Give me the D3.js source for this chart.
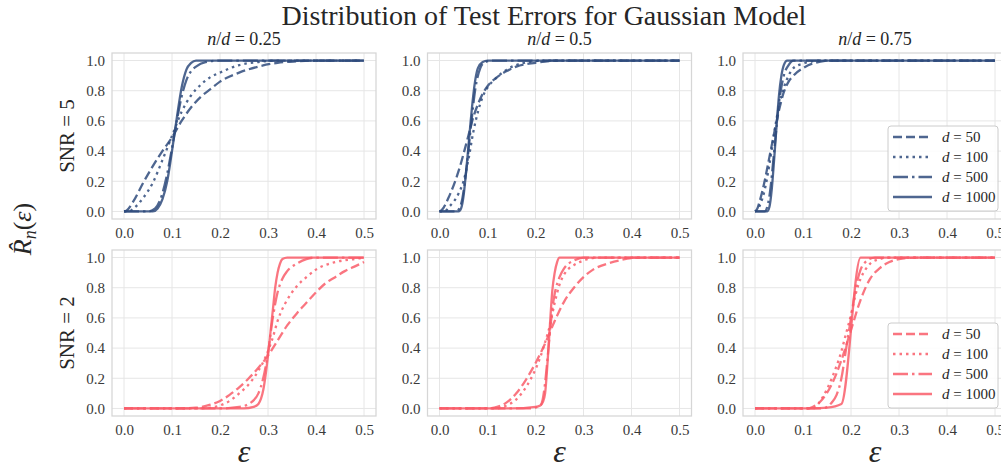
<!DOCTYPE html>
<html>
<head>
<meta charset="utf-8">
<script src="https://cdn.jsdelivr.net/npm/d3@7"></script>
<style>
  body { margin: 0; background: #fff; }
</style>
</head>
<body>
<div id="chart"></div>
<script>
const ratios = ['0.25', '0.5', '0.75'];
const snrs = [5, 2];
const dims = [50, 100, 500, 1000];
const xTicks = [0, 0.1, 0.2, 0.3, 0.4, 0.5];
const yTicks = [0, 0.2, 0.4, 0.6, 0.8, 1.0];

// [eps, R] points for d = 50, 100, 500, 1000
const snr5_r25 = [
  [[0,0],[0.005,0.005],[0.02,0.07],[0.04,0.19],[0.06,0.3],[0.08,0.4],[0.1,0.49],[0.12,0.6],[0.14,0.69],[0.16,0.76],[0.18,0.81],[0.2,0.86],[0.24,0.92],[0.28,0.96],[0.32,0.985],[0.36,0.995],[0.4,1],[0.5,1]],
  [[0,0],[0.01,0],[0.02,0.02],[0.04,0.09],[0.06,0.19],[0.08,0.34],[0.1,0.5],[0.12,0.66],[0.14,0.77],[0.16,0.84],[0.18,0.89],[0.2,0.92],[0.24,0.97],[0.28,0.99],[0.32,1],[0.5,1]],
  [[0,0],[0.05,0],[0.065,0.02],[0.08,0.12],[0.09,0.25],[0.1,0.42],[0.11,0.6],[0.12,0.76],[0.13,0.87],[0.14,0.93],[0.15,0.96],[0.17,0.99],[0.2,1],[0.5,1]],
  [[0,0],[0.06,0],[0.07,0.02],[0.08,0.08],[0.09,0.2],[0.1,0.4],[0.11,0.62],[0.12,0.82],[0.13,0.94],[0.14,0.985],[0.15,1],[0.5,1]]
];
const snr5_r50 = [
  [[0,0],[0.005,0.01],[0.02,0.1],[0.04,0.27],[0.06,0.5],[0.07,0.62],[0.08,0.71],[0.09,0.78],[0.1,0.83],[0.12,0.89],[0.14,0.93],[0.16,0.96],[0.2,0.985],[0.25,1],[0.5,1]],
  [[0,0],[0.01,0],[0.02,0.03],[0.04,0.12],[0.05,0.2],[0.06,0.34],[0.07,0.52],[0.08,0.66],[0.09,0.76],[0.1,0.82],[0.12,0.89],[0.14,0.94],[0.17,0.98],[0.22,1],[0.5,1]],
  [[0,0],[0.035,0],[0.045,0.05],[0.055,0.25],[0.065,0.55],[0.075,0.82],[0.085,0.95],[0.095,0.99],[0.11,1],[0.5,1]],
  [[0,0],[0.04,0],[0.045,0.02],[0.05,0.1],[0.055,0.25],[0.06,0.42],[0.065,0.6],[0.07,0.76],[0.075,0.88],[0.08,0.95],[0.09,0.99],[0.1,1],[0.5,1]]
];
const snr5_r75 = [
  [[0,0],[0.005,0.02],[0.01,0.07],[0.02,0.2],[0.03,0.36],[0.04,0.52],[0.05,0.67],[0.06,0.79],[0.07,0.86],[0.08,0.9],[0.1,0.95],[0.12,0.98],[0.16,1],[0.5,1]],
  [[0,0],[0.005,0.01],[0.01,0.04],[0.02,0.14],[0.03,0.31],[0.04,0.52],[0.05,0.7],[0.06,0.82],[0.07,0.9],[0.08,0.95],[0.1,0.98],[0.14,1],[0.5,1]],
  [[0,0],[0.02,0],[0.03,0.1],[0.04,0.4],[0.05,0.72],[0.06,0.9],[0.07,0.97],[0.08,1],[0.5,1]],
  [[0,0],[0.025,0],[0.03,0.03],[0.035,0.15],[0.04,0.35],[0.045,0.57],[0.05,0.77],[0.055,0.9],[0.06,0.97],[0.067,1],[0.5,1]]
];
const snr2_r25 = [
  [[0,0],[0.1,0],[0.15,0.005],[0.18,0.025],[0.2,0.05],[0.22,0.09],[0.24,0.14],[0.26,0.2],[0.28,0.27],[0.3,0.35],[0.32,0.45],[0.34,0.55],[0.36,0.63],[0.38,0.7],[0.4,0.77],[0.42,0.83],[0.44,0.87],[0.46,0.91],[0.48,0.94],[0.5,0.97]],
  [[0,0],[0.15,0],[0.18,0.005],[0.2,0.02],[0.22,0.05],[0.24,0.1],[0.26,0.16],[0.28,0.25],[0.3,0.38],[0.31,0.47],[0.32,0.58],[0.33,0.66],[0.34,0.72],[0.36,0.81],[0.38,0.87],[0.4,0.92],[0.44,0.97],[0.48,0.99],[0.5,1]],
  [[0,0],[0.2,0],[0.24,0.01],[0.26,0.03],[0.28,0.1],[0.29,0.2],[0.3,0.37],[0.31,0.6],[0.32,0.77],[0.33,0.86],[0.34,0.91],[0.36,0.96],[0.38,0.99],[0.4,1],[0.5,1]],
  [[0,0],[0.25,0],[0.27,0.01],[0.28,0.03],[0.29,0.12],[0.3,0.35],[0.305,0.5],[0.31,0.65],[0.315,0.8],[0.32,0.9],[0.325,0.96],[0.33,0.99],[0.34,1],[0.5,1]]
];
const snr2_r50 = [
  [[0,0],[0.1,0],[0.12,0.01],[0.14,0.04],[0.16,0.1],[0.18,0.19],[0.2,0.3],[0.22,0.43],[0.24,0.58],[0.26,0.71],[0.28,0.8],[0.3,0.87],[0.32,0.92],[0.35,0.96],[0.38,0.985],[0.42,1],[0.5,1]],
  [[0,0],[0.12,0],[0.14,0.02],[0.16,0.06],[0.18,0.14],[0.2,0.26],[0.21,0.34],[0.22,0.44],[0.23,0.55],[0.24,0.7],[0.25,0.82],[0.26,0.89],[0.28,0.95],[0.3,0.98],[0.33,1],[0.5,1]],
  [[0,0],[0.19,0],[0.21,0.02],[0.215,0.06],[0.22,0.17],[0.225,0.33],[0.23,0.5],[0.235,0.66],[0.24,0.76],[0.25,0.87],[0.26,0.93],[0.28,0.98],[0.3,1],[0.5,1]],
  [[0,0],[0.15,0],[0.2,0.01],[0.21,0.02],[0.215,0.04],[0.22,0.1],[0.225,0.3],[0.23,0.55],[0.235,0.78],[0.24,0.9],[0.245,0.97],[0.25,1],[0.5,1]]
];
const snr2_r75 = [
  [[0,0],[0.11,0],[0.12,0.01],[0.14,0.06],[0.16,0.16],[0.18,0.32],[0.2,0.52],[0.22,0.72],[0.24,0.86],[0.26,0.93],[0.28,0.97],[0.3,0.99],[0.34,1],[0.5,1]],
  [[0,0],[0.12,0],[0.14,0.07],[0.16,0.2],[0.18,0.38],[0.19,0.5],[0.2,0.62],[0.21,0.76],[0.22,0.86],[0.23,0.92],[0.24,0.96],[0.26,0.99],[0.28,1],[0.5,1]],
  [[0,0],[0.14,0],[0.15,0.01],[0.16,0.04],[0.17,0.09],[0.18,0.2],[0.19,0.4],[0.2,0.6],[0.21,0.8],[0.22,0.92],[0.23,0.97],[0.25,1],[0.5,1]],
  [[0,0],[0.12,0],[0.15,0.005],[0.18,0.03],[0.22,1],[0.5,1]]
];

const panels = [[snr5_r25, snr5_r50, snr5_r75], [snr2_r25, snr2_r50, snr2_r75]];
const rowColors = ['#2f4b7c', '#f95d6a'];
const dashes = ['9,4', '2.5,4', '15,4,2.5,4', null];

const FONT = '"Liberation Serif", serif';
const width = 1001;
const height = 468;
const panelLeft = [112, 427.5, 743];
const rowTop = [53, 250];
const pw = 264;
const ph = 166;

const svg = d3.select('#chart')
  .append('svg')
  .attr('width', width)
  .attr('height', height)
  .attr('font-family', FONT);

svg.append('text')
  .attr('x', 544)
  .attr('y', 25)
  .attr('text-anchor', 'middle')
  .attr('font-family', FONT)
  .attr('font-size', 28)
  .attr('fill', '#262626')
  .text('Distribution of Test Errors for Gaussian Model');

// y axis super label
const yl = svg.append('text')
  .attr('transform', 'translate(31,229) rotate(-90)')
  .attr('text-anchor', 'middle')
  .attr('font-family', FONT)
  .attr('font-size', 26)
  .attr('fill', '#262626');
yl.append('tspan').attr('font-style', 'italic').text('R\u0302');
yl.append('tspan').attr('font-style', 'italic').attr('font-size', 18).attr('dy', 5).text('n');
yl.append('tspan').attr('dy', -5).text('(');
yl.append('tspan').attr('font-style', 'italic').text('\u03b5');
yl.append('tspan').text(')');

snrs.forEach((snr, r) => {
  svg.append('text')
    .attr('transform', `translate(74,${rowTop[r] + ph / 2}) rotate(-90)`)
    .attr('text-anchor', 'middle')
    .attr('font-family', FONT)
    .attr('font-size', 21)
    .attr('fill', '#262626')
    .text(`SNR = ${snr}`);

  ratios.forEach((ratio, c) => {
    const x = d3.scaleLinear().domain([-0.025, 0.525]).range([panelLeft[c], panelLeft[c] + pw]);
    const y = d3.scaleLinear().domain([-0.05, 1.05]).range([rowTop[r] + ph, rowTop[r]]);
    const g = svg.append('g');

    g.selectAll('.gx').data(xTicks).enter().append('line')
      .attr('x1', d => x(d)).attr('x2', d => x(d))
      .attr('y1', rowTop[r]).attr('y2', rowTop[r] + ph)
      .attr('stroke', '#e6e6e6').attr('stroke-width', 1);
    g.selectAll('.gy').data(yTicks).enter().append('line')
      .attr('x1', panelLeft[c]).attr('x2', panelLeft[c] + pw)
      .attr('y1', d => y(d)).attr('y2', d => y(d))
      .attr('stroke', '#e6e6e6').attr('stroke-width', 1);
    g.append('rect')
      .attr('x', panelLeft[c]).attr('y', rowTop[r])
      .attr('width', pw).attr('height', ph)
      .attr('fill', 'none').attr('stroke', '#d6d6d6').attr('stroke-width', 1.25);

    const xa = g.append('g')
      .attr('transform', `translate(0,${rowTop[r] + ph})`)
      .call(d3.axisBottom(x).tickValues(xTicks).tickSize(0).tickPadding(8).tickFormat(d3.format('.1f')));
    const ya = g.append('g')
      .attr('transform', `translate(${panelLeft[c]},0)`)
      .call(d3.axisLeft(y).tickValues(yTicks).tickSize(0).tickPadding(7).tickFormat(d3.format('.1f')));
    [xa, ya].forEach(a => {
      a.attr('font-family', FONT).attr('font-size', 15);
      a.select('.domain').remove();
      a.selectAll('text').attr('fill', '#3a3a3a');
    });

    const line = d3.line()
      .x(d => x(d[0]))
      .y(d => y(d[1]))
      .curve(d3.curveMonotoneX);

    g.selectAll('.series')
      .data(panels[r][c])
      .enter()
      .append('path')
      .attr('d', line)
      .attr('fill', 'none')
      .attr('stroke', rowColors[r])
      .attr('stroke-opacity', 0.85)
      .attr('stroke-width', 2.3)
      .attr('stroke-dasharray', (d, i) => dashes[i]);

    if (r === 0) {
      const t = g.append('text')
        .attr('x', panelLeft[c] + pw / 2)
        .attr('y', 45)
        .attr('text-anchor', 'middle')
        .attr('font-family', FONT)
        .attr('font-size', 18)
        .attr('fill', '#262626');
      t.append('tspan').attr('font-style', 'italic').text('n');
      t.append('tspan').text('/');
      t.append('tspan').attr('font-style', 'italic').text('d');
      t.append('tspan').text(` = ${ratio}`);
    } else {
      g.append('text')
        .attr('x', panelLeft[c] + pw / 2)
        .attr('y', 462)
        .attr('text-anchor', 'middle')
        .attr('font-family', FONT)
        .attr('font-size', 32)
        .attr('font-style', 'italic')
        .attr('fill', '#262626')
        .text('\u03b5');
    }

    if (c === 2) {
      const lx = 888;
      const ly = rowTop[r] + ph - 8 - 85;
      const lg = g.append('g');
      lg.append('rect')
        .attr('x', lx).attr('y', ly)
        .attr('width', 110).attr('height', 85)
        .attr('rx', 3)
        .attr('fill', 'rgba(255,255,255,0.85)')
        .attr('stroke', '#cccccc');
      dims.forEach((d, i) => {
        const yy = ly + 11 + i * 20;
        lg.append('line')
          .attr('x1', lx + 5).attr('x2', lx + 44)
          .attr('y1', yy).attr('y2', yy)
          .attr('stroke', rowColors[r])
          .attr('stroke-opacity', 0.85)
          .attr('stroke-width', 2.3)
          .attr('stroke-dasharray', dashes[i]);
        const lt = lg.append('text')
          .attr('x', lx + 54).attr('y', yy + 5)
          .attr('font-family', FONT)
          .attr('font-size', 15)
          .attr('fill', '#262626');
        lt.append('tspan').attr('font-style', 'italic').text('d');
        lt.append('tspan').text(` = ${d}`);
      });
    }
  });
});
</script>
</body>
</html>
